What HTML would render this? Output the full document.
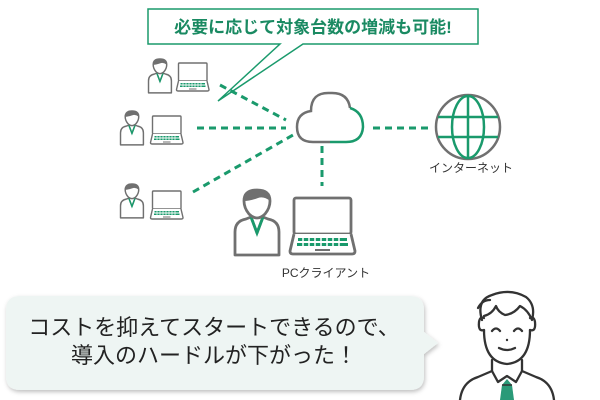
<!DOCTYPE html>
<html><head><meta charset="utf-8"><style>
html,body{margin:0;padding:0;background:#fff;}
svg{display:block;}
text{font-family:"Liberation Sans","Noto Sans CJK JP",sans-serif;}
</style></head><body>
<svg width="600" height="400" viewBox="0 0 600 400" xmlns="http://www.w3.org/2000/svg">
<defs>
 <g id="person">
  <path d="M1,67 V44 Q1,33 12,31 L17,29 L23,45 L29,29 L34,31 Q45,33 45,44 V67 Z" fill="#fff" stroke="#707070" stroke-width="2.8" stroke-linejoin="round"/>
  <path d="M17,29 L23,45 L29,29" fill="none" stroke="#1a9a6c" stroke-width="2.8"/>
  <path d="M15,26 Q10,20 10,13 Q10,2 23,2 Q36,2 36,13 Q36,20 31,26 Q27,30 23,30 Q19,30 15,26 Z" fill="#fff" stroke="#707070" stroke-width="2.8"/>
  <path d="M10,13 Q10,2 23,2 Q36,2 36,13 Q30,8 24,10 Q16,13 10,13 Z" fill="#707070"/>
 </g>
 <g id="laptop">
  <rect x="5" y="2" width="57" height="36" rx="2" fill="#fff" stroke="#707070" stroke-width="2.8"/>
  <path d="M5,38 L1,55 Q1,58 4,58 H63 Q66,58 66,55 L62,38" fill="#fff" stroke="#707070" stroke-width="2.8" stroke-linejoin="round"/>
  <g fill="#1a9a6c">
   <rect x="9" y="42" width="49" height="3"/><rect x="8" y="47" width="51" height="3"/>
  </g>
  <g stroke="#fff" stroke-width="1.5">
   <path d="M14,41 V51 M20,41 V51 M26,41 V51 M32,41 V51 M38,41 V51 M44,41 V51 M50,41 V51"/>
  </g>
  <rect x="26" y="53" width="15" height="2" fill="#707070"/>
 </g>
 <filter id="sh" x="-5%" y="-5%" width="115%" height="125%"><feDropShadow dx="1" dy="2" stdDeviation="2" flood-color="#000" flood-opacity="0.25"/></filter>
</defs>

<path d="M148,9 H478 V44 H303 L218,101 L280,44 H148 Z" fill="#fff" stroke="#1a9a6c" stroke-width="1.5"/>
<text x="313" y="33" text-anchor="middle" font-size="17" font-weight="bold" fill="#1a8a62">必要に応じて対象台数の増減も可能!</text>

<g stroke="#1a9a6c" stroke-width="3" stroke-dasharray="7,5" fill="none">
 <path d="M220,85 L286,120"/>
 <path d="M197,128 L286,128"/>
 <path d="M193,192 L293,135"/>
 <path d="M322,146 L322,186"/>
 <path d="M373,128 L432,128"/>
</g>

<!-- cloud -->
<path d="M330,142 H313 Q297,142 297,127 Q297,113 311,111 Q311,92 330,93 Q348,92 350,108" fill="none" stroke="#707070" stroke-width="2.5"/>
<path d="M350,108 Q363,112 363,127 Q362,142 346,142 H330" fill="none" stroke="#1a9a6c" stroke-width="2.5"/>

<circle cx="468" cy="127" r="32" fill="#fff" stroke="#707070" stroke-width="2.5"/>
<g fill="none" stroke="#1a9a6c" stroke-width="2.5">
 <ellipse cx="468" cy="127" rx="16" ry="31"/>
 <path d="M468,96 V158 M438,117 H498 M438,137 H498"/>
</g>
<text x="471" y="172" text-anchor="middle" font-size="12" fill="#333">インターネット</text>

<use href="#person" transform="translate(148,58) scale(0.52)"/>
<use href="#laptop" transform="translate(176,62) scale(0.5)"/>
<use href="#person" transform="translate(120,110) scale(0.52)"/>
<use href="#laptop" transform="translate(150,115) scale(0.5)"/>
<use href="#person" transform="translate(120,183) scale(0.52)"/>
<use href="#laptop" transform="translate(150,190) scale(0.5)"/>

<use href="#person" transform="translate(234,188)"/>
<use href="#laptop" transform="translate(289,196)"/>
<text x="326" y="277" text-anchor="middle" font-size="12" fill="#333">PCクライアント</text>

<path d="M20,296 H410 Q424,296 424,310 V332 L438,343 L424,354 V376 Q424,390 410,390 H20 Q6,390 6,376 V310 Q6,296 20,296 Z" fill="#eef5f3" filter="url(#sh)"/>
<text x="214" y="335" text-anchor="middle" font-size="22" fill="#222">コストを抑えてスタートできるので、</text>
<text x="214" y="363" text-anchor="middle" font-size="22" fill="#222">導入のハードルが下がった！</text>

<g fill="none" stroke="#333" stroke-width="2.3" stroke-linecap="round" stroke-linejoin="round">
 <path d="M460,400 Q462,382 478,377 L492,371 L498,382 L507,376 L516,382 L522,371 L536,377 Q552,382 554,400" fill="#fff"/>
 <path d="M492,371 V360 M522,371 V360"/>
 <path d="M484,330 Q484,362 507,364 Q530,362 530,330"/>
 <path d="M484,330 Q478,332 479,322 Q480,316 484,318"/>
 <path d="M530,330 Q536,332 535,322 Q534,316 530,318"/>
 <path d="M482,320 Q476,300 492,295 Q510,288 526,297 Q536,305 532,320 Q528,310 520,306 Q514,314 505,315 Q498,312 496,306 Q492,314 484,316"/>
 <path d="M478,308 Q482,300 490,300"/>
 <path d="M492,331 Q496,326 500,331 M514,331 Q518,326 522,331"/>
 <path d="M499,348 Q507,352 515,348"/>
</g>
<circle cx="507" cy="340" r="1.2" fill="#333"/>
<path d="M502,385 L507,379 L512,385 L514,400 H500 Z" fill="#2a9a78"/>
<path d="M502,385 H512" stroke="#333" stroke-width="1.5"/>
</svg>
</body></html>
